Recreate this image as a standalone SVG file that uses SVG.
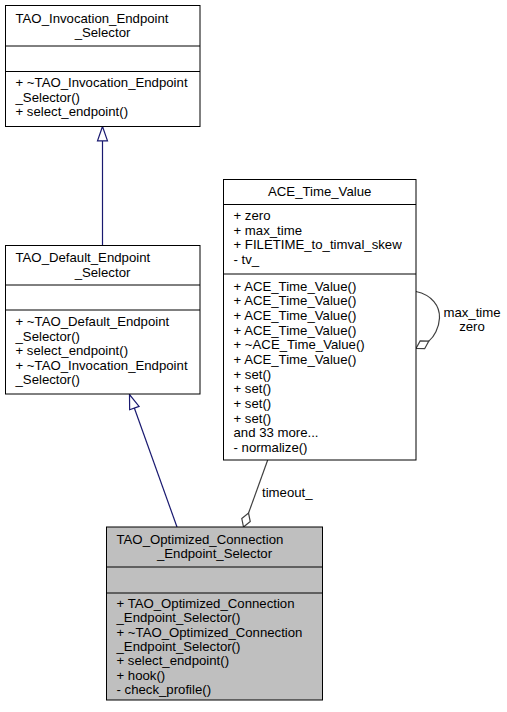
<svg xmlns="http://www.w3.org/2000/svg" width="507" height="712" viewBox="0 0 507 712">
<style>
text{font-family:"Liberation Sans",Arial,Helvetica,sans-serif;font-size:13.2px;fill:#000}
.box{fill:#fff;stroke:#000;stroke-width:1}
.cur{fill:#bfbfbf;stroke:#000;stroke-width:1}
.div{stroke:#000;stroke-width:1}
.mid{text-anchor:middle}
.inh{fill:none;stroke:#191970;stroke-width:1.2}
.use{fill:none;stroke:#404040;stroke-width:1.2}
</style>
<defs>
<marker id="tri" markerUnits="userSpaceOnUse" viewBox="-16 -7 18 14" refX="0" refY="0" markerWidth="18" markerHeight="14" orient="auto">
<polygon points="0,0 -14.4,-5 -14.4,5" fill="#fff" stroke="#191970" stroke-width="1.2"/>
</marker>
<marker id="dia" markerUnits="userSpaceOnUse" viewBox="-16 -7 18 14" refX="0" refY="0" markerWidth="18" markerHeight="14" orient="auto">
<polygon points="0,0 -7.4,-4.5 -14.8,0 -7.4,4.5" fill="#fff" stroke="#404040" stroke-width="1.2"/>
</marker>
</defs>
<rect width="507" height="712" fill="#fff"/>
<g id="connectors">
<path class="inh" d="M102.5,245 L102.5,126.5" marker-end="url(#tri)"/>
<path class="inh" d="M177,527 L129.5,394.5" marker-end="url(#tri)"/>
<path class="use" d="M267.7,460 L243.5,527" marker-end="url(#dia)"/>
<text x="262" y="497">timeout_</text>
<path class="use" d="M416,291.5 C432,295 440,306 439.5,318 C439,328 434,337 428.8,341.1 L416,348.5" marker-end="url(#dia)"/>
<text class="mid" x="472" y="316.5">max_time</text>
<text class="mid" x="472" y="331">zero</text>
</g>
<g id="TAO_Invocation_Endpoint_Selector">
<rect class="box" x="5.5" y="5.5" width="194.5" height="121"/>
<line class="div" x1="5.5" y1="46" x2="200" y2="46"/>
<line class="div" x1="5.5" y1="71.5" x2="200" y2="71.5"/>
<text x="15.5" y="22.5">TAO_Invocation_Endpoint</text>
<text class="mid" x="102.5" y="37">_Selector</text>
<text x="15.5" y="87">+ ~TAO_Invocation_Endpoint</text>
<text x="15.5" y="101.5">_Selector()</text>
<text x="15.5" y="116">+ select_endpoint()</text>
</g>
<g id="TAO_Default_Endpoint_Selector">
<rect class="box" x="5.5" y="245.5" width="194.5" height="148.5"/>
<line class="div" x1="5.5" y1="285" x2="200" y2="285"/>
<line class="div" x1="5.5" y1="310" x2="200" y2="310"/>
<text x="15.5" y="262">TAO_Default_Endpoint</text>
<text class="mid" x="102.5" y="276.5">_Selector</text>
<text x="15.5" y="326">+ ~TAO_Default_Endpoint</text>
<text x="15.5" y="340.5">_Selector()</text>
<text x="15.5" y="355">+ select_endpoint()</text>
<text x="15.5" y="369.5">+ ~TAO_Invocation_Endpoint</text>
<text x="15.5" y="384">_Selector()</text>
</g>
<g id="ACE_Time_Value">
<rect class="box" x="223.5" y="179.5" width="192.5" height="280.5"/>
<line class="div" x1="223.5" y1="204.5" x2="416" y2="204.5"/>
<line class="div" x1="223.5" y1="274" x2="416" y2="274"/>
<text class="mid" x="319.7" y="196">ACE_Time_Value</text>
<text x="233.5" y="220">+ zero</text>
<text x="233.5" y="234.7">+ max_time</text>
<text x="233.5" y="249.4">+ FILETIME_to_timval_skew</text>
<text x="233.5" y="264.1">- tv_</text>
<text x="233.5" y="290.7">+ ACE_Time_Value()</text>
<text x="233.5" y="305.3">+ ACE_Time_Value()</text>
<text x="233.5" y="320">+ ACE_Time_Value()</text>
<text x="233.5" y="334.6">+ ACE_Time_Value()</text>
<text x="233.5" y="349.3">+ ~ACE_Time_Value()</text>
<text x="233.5" y="363.9">+ ACE_Time_Value()</text>
<text x="233.5" y="378.5">+ set()</text>
<text x="233.5" y="393.2">+ set()</text>
<text x="233.5" y="407.8">+ set()</text>
<text x="233.5" y="422.5">+ set()</text>
<text x="233.5" y="437.1">and 33 more...</text>
<text x="233.5" y="451.7">- normalize()</text>
</g>
<g id="TAO_Optimized_Connection_Endpoint_Selector">
<rect class="cur" x="106.5" y="527" width="216" height="173"/>
<line class="div" x1="106.5" y1="567" x2="322.5" y2="567"/>
<line class="div" x1="106.5" y1="593" x2="322.5" y2="593"/>
<text x="116.5" y="544">TAO_Optimized_Connection</text>
<text class="mid" x="214.5" y="558">_Endpoint_Selector</text>
<text x="116.5" y="608">+ TAO_Optimized_Connection</text>
<text x="116.5" y="622.3">_Endpoint_Selector()</text>
<text x="116.5" y="636.6">+ ~TAO_Optimized_Connection</text>
<text x="116.5" y="650.9">_Endpoint_Selector()</text>
<text x="116.5" y="665.2">+ select_endpoint()</text>
<text x="116.5" y="679.5">+ hook()</text>
<text x="116.5" y="693.8">- check_profile()</text>
</g>
</svg>
